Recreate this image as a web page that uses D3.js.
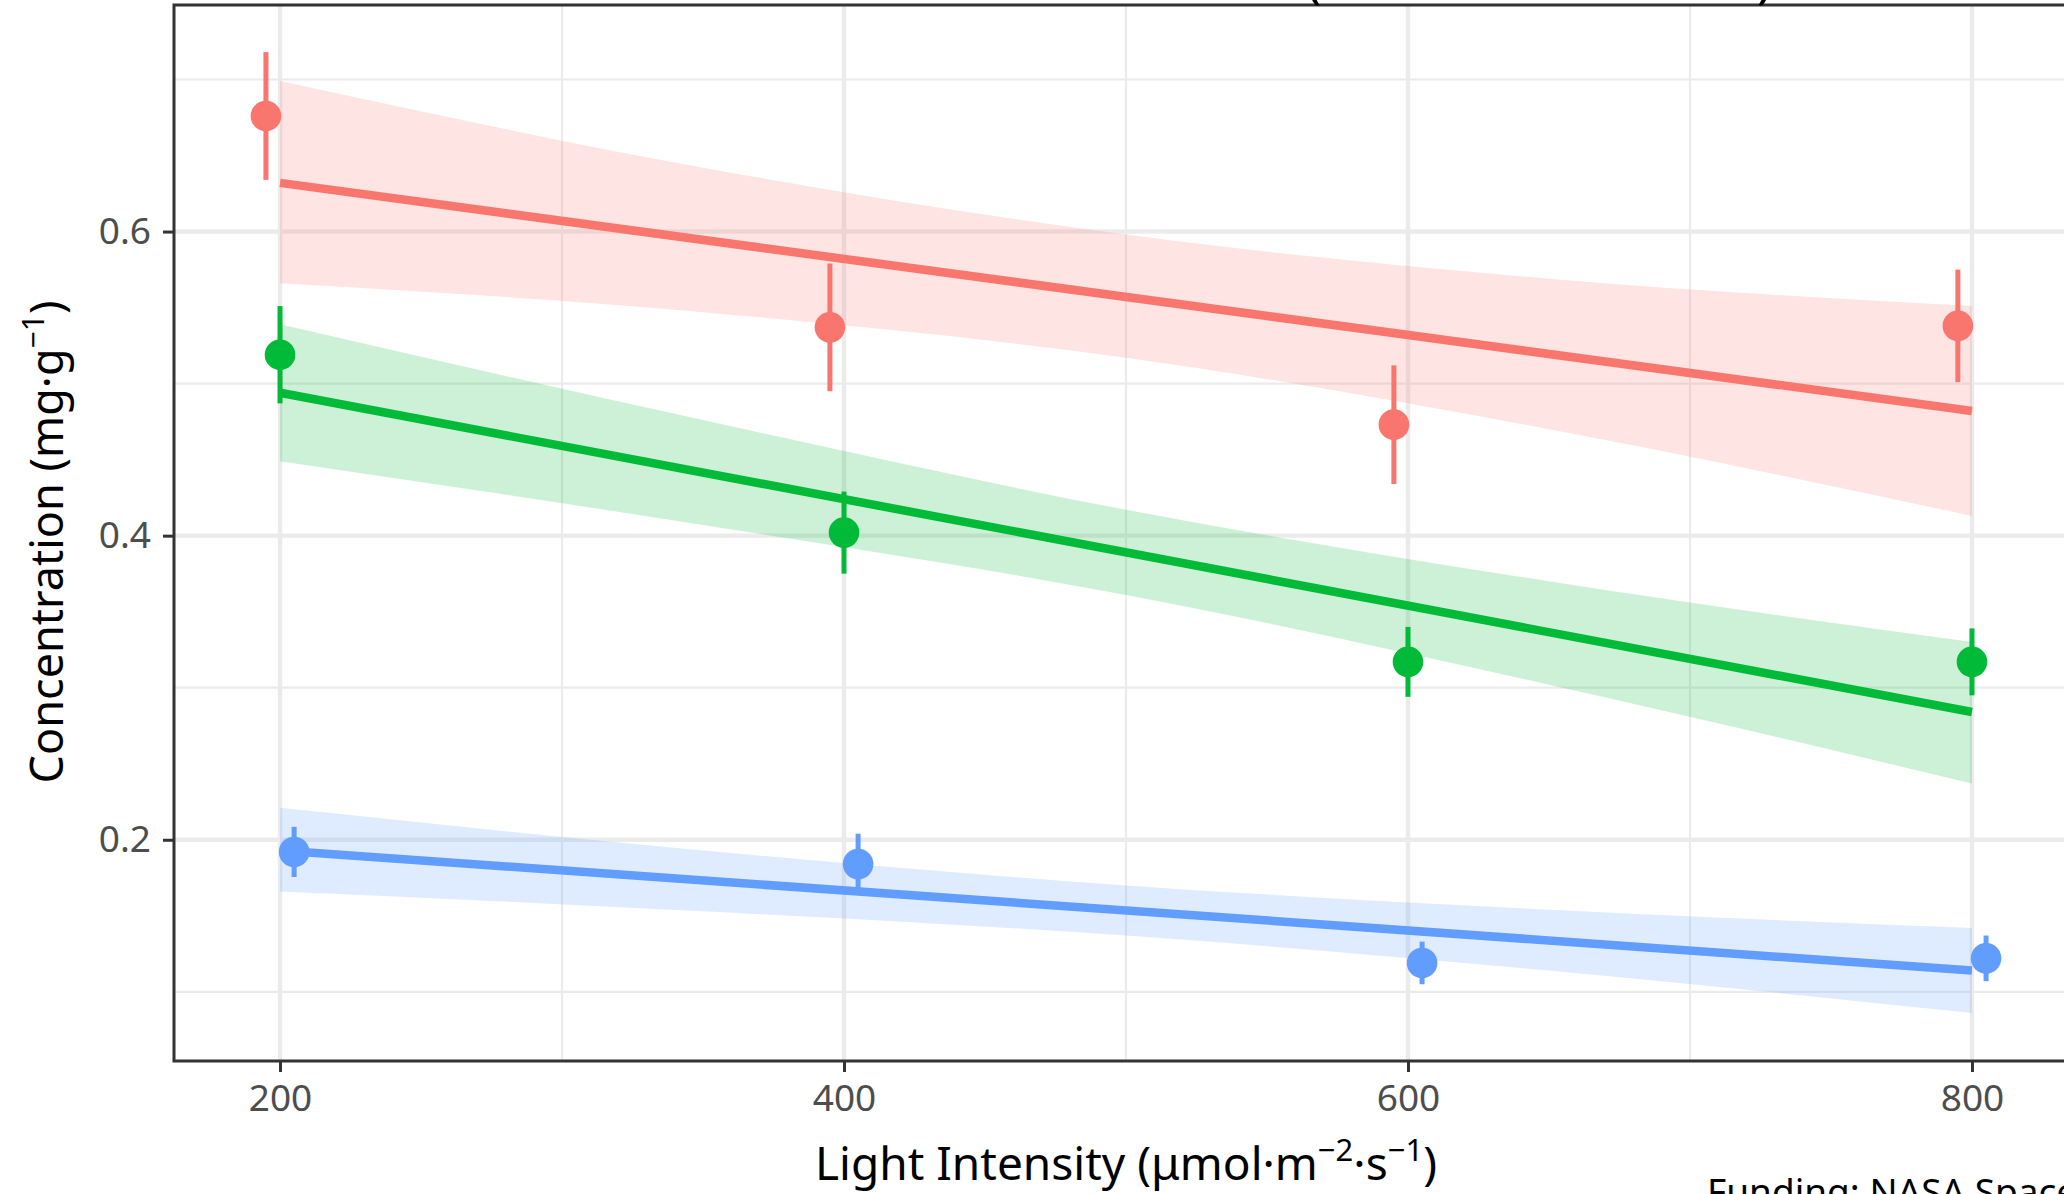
<!DOCTYPE html>
<html>
<head>
<meta charset="utf-8">
<script src="https://cdn.jsdelivr.net/npm/d3@7"></script>
<style>
  html, body { margin: 0; padding: 0; background: #ffffff; }
  svg { display: block; }
  text { font-family: "Noto Sans", "Open Sans", sans-serif; }
</style>
</head>
<body>
<svg id="chart" width="2064" height="1194"></svg>
<script>
// ---- data -------------------------------------------------------------
const intensity = [200, 400, 600, 800];
const pigments = ["Chlorophyll a", "Chlorophyll b", "Carotenoids"];
const colors = ["#F8766D", "#00BA38", "#619CFF"];

// group means and standard errors at each light intensity
const meanChlA = [0.676, 0.537, 0.473, 0.538];
const seChlA   = [0.042, 0.042, 0.039, 0.037];
const meanChlB = [0.519, 0.402, 0.317, 0.317];
const seChlB   = [0.032, 0.027, 0.023, 0.022];
const meanCar  = [0.192, 0.184, 0.119, 0.122];
const seCar    = [0.0165, 0.020, 0.014, 0.015];

// linear fit (value at 200 and at 800) and 95% confidence band
const fitX   = [200, 800];
const fitChlA = [0.632, 0.482];
const fitChlB = [0.494, 0.284];
const fitCar  = [0.193, 0.114];
const bandX = [200, 350, 500, 650, 800];
const bandHiChlA = [0.699, 0.642, 0.598, 0.569, 0.551];
const bandLoChlA = [0.566, 0.547, 0.517, 0.470, 0.413];
const bandHiChlB = [0.539, 0.476, 0.417, 0.370, 0.330];
const bandLoChlB = [0.449, 0.407, 0.361, 0.302, 0.237];
const bandHiCar  = [0.221, 0.193, 0.170, 0.154, 0.142];
const bandLoCar  = [0.166, 0.153, 0.137, 0.114, 0.086];

const xMajor = [200, 400, 600, 800];
const xMinor = [300, 500, 700];
const yMajor = [0.2, 0.4, 0.6];
const yMinor = [0.1, 0.3, 0.5, 0.7];
const yTickLabels = ["0.2", "0.4", "0.6"];

const series = [
  { name: pigments[0], color: colors[0], mean: meanChlA, se: seChlA, fit: fitChlA, hi: bandHiChlA, lo: bandLoChlA },
  { name: pigments[1], color: colors[1], mean: meanChlB, se: seChlB, fit: fitChlB, hi: bandHiChlB, lo: bandLoChlB },
  { name: pigments[2], color: colors[2], mean: meanCar,  se: seCar,  fit: fitCar,  hi: bandHiCar,  lo: bandLoCar }
];
const dodge = 5; // horizontal offset between groups, in µmol units

// ---- layout -----------------------------------------------------------
const panel = { left: 174, top: 5, right: 2078, bottom: 1061 };
const x = d3.scaleLinear().domain([162.4, 837.6]).range([panel.left, panel.right]);
const y = d3.scaleLinear().domain([0.0545, 0.749]).range([panel.bottom, panel.top]);

const svg = d3.select("#chart");
svg.append("rect").attr("width", 2064).attr("height", 1194).attr("fill", "#ffffff");

svg.append("defs").append("clipPath").attr("id", "panel-clip")
  .append("rect")
  .attr("x", panel.left).attr("y", panel.top)
  .attr("width", panel.right - panel.left).attr("height", panel.bottom - panel.top);

const plot = svg.append("g").attr("clip-path", "url(#panel-clip)");

// grid
const grid = plot.append("g");
grid.selectAll(".xminor").data(xMinor).join("line")
  .attr("x1", d => x(d)).attr("x2", d => x(d))
  .attr("y1", panel.top).attr("y2", panel.bottom)
  .attr("stroke", "#EBEBEB").attr("stroke-width", 2.2);
grid.selectAll(".yminor").data(yMinor).join("line")
  .attr("y1", d => y(d)).attr("y2", d => y(d))
  .attr("x1", panel.left).attr("x2", panel.right)
  .attr("stroke", "#EBEBEB").attr("stroke-width", 2.2);
grid.selectAll(".xmajor").data(xMajor).join("line")
  .attr("x1", d => x(d)).attr("x2", d => x(d))
  .attr("y1", panel.top).attr("y2", panel.bottom)
  .attr("stroke", "#EBEBEB").attr("stroke-width", 4.4);
grid.selectAll(".ymajor").data(yMajor).join("line")
  .attr("y1", d => y(d)).attr("y2", d => y(d))
  .attr("x1", panel.left).attr("x2", panel.right)
  .attr("stroke", "#EBEBEB").attr("stroke-width", 4.4);

// confidence bands
const band = d3.area()
  .x(d => x(d.x)).y0(d => y(d.lo)).y1(d => y(d.hi))
  .curve(d3.curveMonotoneX);
plot.append("g").selectAll("path").data(series).join("path")
  .attr("d", s => band(bandX.map((bx, i) => ({ x: bx, lo: s.lo[i], hi: s.hi[i] }))))
  .attr("fill", s => s.color).attr("fill-opacity", 0.2);

// fitted lines
const fitLine = d3.line().x(d => x(d.x)).y(d => y(d.v));
plot.append("g").selectAll("path").data(series).join("path")
  .attr("d", s => fitLine(fitX.map((fx, i) => ({ x: fx, v: s.fit[i] }))))
  .attr("fill", "none").attr("stroke", s => s.color).attr("stroke-width", 8.5);

// error bars and means
series.forEach((s, gi) => {
  const off = (gi - 1) * dodge;
  const pts = intensity.map((xi, i) => ({ x: xi + off, m: s.mean[i], e: s.se[i] }));
  const g = plot.append("g");
  g.selectAll("line").data(pts).join("line")
    .attr("x1", d => x(d.x)).attr("x2", d => x(d.x))
    .attr("y1", d => y(d.m - d.e)).attr("y2", d => y(d.m + d.e))
    .attr("stroke", s.color).attr("stroke-width", 5);
  g.selectAll("circle").data(pts).join("circle")
    .attr("cx", d => x(d.x)).attr("cy", d => y(d.m)).attr("r", 15.3)
    .attr("fill", s.color);
});

// panel border
svg.append("rect")
  .attr("x", panel.left).attr("y", panel.top)
  .attr("width", panel.right - panel.left).attr("height", panel.bottom - panel.top)
  .attr("fill", "none").attr("stroke", "#333333").attr("stroke-width", 3);

// axes
const xAxis = svg.append("g").attr("transform", `translate(0,${panel.bottom})`)
  .call(d3.axisBottom(x).tickValues(xMajor).tickFormat(d3.format("d")).tickSize(11).tickPadding(13));
const yAxis = svg.append("g").attr("transform", `translate(${panel.left},0)`)
  .call(d3.axisLeft(y).tickValues(yMajor).tickFormat((d, i) => yTickLabels[i]).tickSize(11).tickPadding(12));
[xAxis, yAxis].forEach(a => {
  a.select(".domain").remove();
  a.selectAll(".tick line").attr("stroke", "#333333").attr("stroke-width", 3);
  a.selectAll(".tick text").attr("fill", "#4D4D4D")
    .style("font-size", "37px").style("font-family", "'Noto Sans', sans-serif");
});

// axis titles
const xt = svg.append("text")
  .attr("x", (panel.left + panel.right) / 2).attr("y", 1180)
  .attr("text-anchor", "middle").attr("fill", "#000000")
  .style("font-size", "46px");
xt.append("tspan").text("Light Intensity (μmol·m");
xt.append("tspan").text("−2").style("font-size", "31px").attr("dy", -19);
xt.append("tspan").text("·s").attr("dy", 19);
xt.append("tspan").text("−1").style("font-size", "31px").attr("dy", -19);
xt.append("tspan").text(")").attr("dy", 19);

const yt = svg.append("text")
  .attr("transform", `translate(63,${(panel.top + panel.bottom) / 2 + 9}) rotate(-90)`)
  .attr("text-anchor", "middle").attr("fill", "#000000")
  .style("font-size", "45px");
yt.append("tspan").text("Concentration (mg·g");
yt.append("tspan").text("−1").style("font-size", "30px").attr("dy", -19);
yt.append("tspan").text(")").attr("dy", 19);

// title (sits above the visible area) and caption
svg.append("text")
  .attr("x", 1772).attr("y", -3)
  .attr("text-anchor", "end").attr("fill", "#000000")
  .style("font-size", "52px")
  .text("Red Lettuce Leaf Concentrations Under LED Irradiance (Mean ± SE with CI)");

svg.append("text")
  .attr("x", 1707).attr("y", 1205)
  .attr("fill", "#000000")
  .style("font-size", "37px")
  .text("Funding: NASA Space Biology Program");
</script>
</body>
</html>
